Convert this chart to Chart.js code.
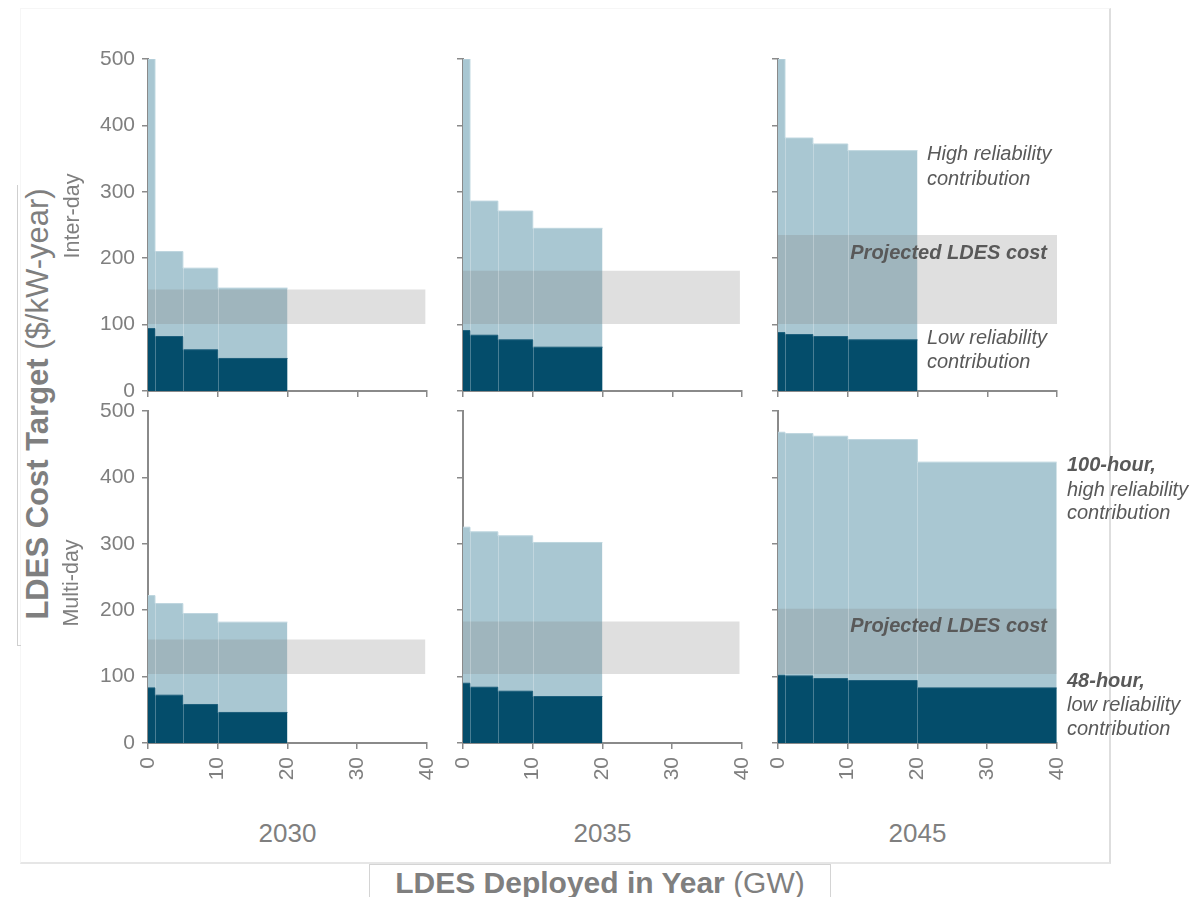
<!DOCTYPE html>
<html>
<head>
<meta charset="utf-8">
<title>LDES Cost Target</title>
<script src="https://cdn.jsdelivr.net/npm/chart.js@4.4.1/dist/chart.umd.min.js"></script>
<style>
  html, body { margin: 0; padding: 0; background: #ffffff; }
  #page {
    position: relative; width: 1203px; height: 897px; overflow: hidden;
    font-family: "Liberation Sans", Arial, sans-serif; color: #7f7f7f;
  }
  #plots { position: absolute; left: 0; top: 0; width: 1203px; height: 897px; }
  .panel { position: absolute; }
  .txt { position: absolute; white-space: nowrap; line-height: 24px; }
  .note { font-size: 20px; font-style: italic; color: #595959; }
  .note b { font-weight: bold; }
  .year { font-size: 26px; transform: translateX(-50%); }
  .rot { transform: translate(-50%, -50%) rotate(-90deg); }
  .line { position: absolute; }
</style>
</head>
<body>
<div id="page">
  <!-- frame lines -->
  <div class="line" style="left:20px;top:8px;width:1088px;height:853px;border-left:1px solid #f6f6f6;border-top:1px solid #f6f6f6;border-right:2px solid #dedede;border-bottom:2px solid #e6e6e6;"></div>
  <div class="line" style="left:17px;top:185px;width:3px;height:460px;border-left:1px solid #cfcfcf;border-bottom:1px solid #cfcfcf;"></div>
  <div class="line" style="left:369px;top:864px;width:460px;height:40px;border:1px solid #d4d4d4;border-bottom:none;background:#fff;"></div>

  <div id="plots"></div>

  <!-- axis and row titles -->
  <div class="txt rot" style="left:38px;top:404px;font-size:31px;line-height:34px;"><b>LDES Cost Target</b> ($/kW-year)</div>
  <div class="txt rot" style="left:72px;top:216px;font-size:21.5px;">Inter-day</div>
  <div class="txt rot" style="left:71px;top:583px;font-size:21.5px;">Multi-day</div>
  <div class="txt" style="left:600px;top:866px;transform:translateX(-50%);font-size:30px;line-height:34px;"><b>LDES Deployed in Year</b> (GW)</div>

  <div id="years"></div>

  <!-- annotations -->
  <div class="txt note" style="left:927px;top:141px;">High reliability</div>
  <div class="txt note" style="left:927px;top:166px;">contribution</div>
  <div class="txt note" style="left:845px;top:240px;width:202px;text-align:right;"><b>Projected LDES cost</b></div>
  <div class="txt note" style="left:927px;top:325px;">Low reliability</div>
  <div class="txt note" style="left:927px;top:349px;">contribution</div>

  <div class="txt note" style="left:1067px;top:452px;"><b>100-hour,</b></div>
  <div class="txt note" style="left:1067px;top:477px;">high reliability</div>
  <div class="txt note" style="left:1067px;top:500px;">contribution</div>
  <div class="txt note" style="left:845px;top:613px;width:202px;text-align:right;"><b>Projected LDES cost</b></div>
  <div class="txt note" style="left:1067px;top:668px;"><b>48-hour,</b></div>
  <div class="txt note" style="left:1067px;top:692px;">low reliability</div>
  <div class="txt note" style="left:1067px;top:716px;">contribution</div>
</div>

<script>
// Panel labels
const years = ['2030', '2035', '2045'];
const durations = ['Inter-day', 'Multi-day'];

// Axis ticks
const yTicks = [0, 100, 200, 300, 400, 500];
const xTicks = [0, 10, 20, 30, 40];

// Deployment step edges (GW)
const steps20 = [0, 1, 5, 10, 20];
const steps40 = [0, 1, 5, 10, 20, 40];

// Inter-day cost targets ($/kW-year) per deployment step
const interHigh2030 = [500, 210, 185, 155];
const interLow2030  = [94, 82, 62, 49];
const interHigh2035 = [500, 286, 271, 245];
const interLow2035  = [91, 84, 77, 66];
const interHigh2045 = [500, 381, 372, 362];
const interLow2045  = [88, 85, 82, 77];

// Multi-day cost targets ($/kW-year) per deployment step
const multiHigh2030 = [222, 210, 195, 182];
const multiLow2030  = [83, 72, 58, 46];
const multiHigh2035 = [325, 318, 312, 302];
const multiLow2035  = [90, 84, 78, 70];
const multiHigh2045 = [468, 466, 462, 457, 423];
const multiLow2045  = [102, 101, 97, 94, 83];

// Projected LDES cost range [low, high] and its extent in GW
const interBand2030 = [101, 153];
const interBand2035 = [101, 181];
const interBand2045 = [101, 235];
const multiBand2030 = [104, 156];
const multiBand2035 = [104, 183];
const multiBand2045 = [104, 202];
const bandSpan = [39.8, 39.7, 40];

const panels = [
  { row: 0, col: 0, steps: steps20, high: interHigh2030, low: interLow2030, band: interBand2030 },
  { row: 0, col: 1, steps: steps20, high: interHigh2035, low: interLow2035, band: interBand2035 },
  { row: 0, col: 2, steps: steps20, high: interHigh2045, low: interLow2045, band: interBand2045 },
  { row: 1, col: 0, steps: steps20, high: multiHigh2030, low: multiLow2030, band: multiBand2030 },
  { row: 1, col: 1, steps: steps20, high: multiHigh2035, low: multiLow2035, band: multiBand2035 },
  { row: 1, col: 2, steps: steps40, high: multiHigh2045, low: multiLow2045, band: multiBand2045 }
];

const LIGHT = '#a9c7d2';
const DARK = '#044d6b';
const BAND = 'rgba(130,130,130,0.26)';
const AXIS = '#8a8a8a';
const TICK_TEXT = '#7f7f7f';
const FONT = '"Liberation Sans", Arial, sans-serif';

// plot layout in page pixels
const colLeft = [148, 463, 778];
const rowTop = [59, 411];
const plotW = 279, plotH = 332;
const yAxisW = 70, xAxisH = 52, padTop = 22, padRight = 28;

function stepPoints(steps, values) {
  const pts = values.map((v, i) => ({ x: steps[i], y: v }));
  pts.push({ x: steps[values.length], y: values[values.length - 1] });
  return pts;
}

// thin light seams between deployment steps
const seams = {
  id: 'seams',
  afterDatasetsDraw(chart, args, opts) {
    const { ctx, scales: { x, y } } = chart;
    ctx.save();
    ctx.strokeStyle = 'rgba(255,255,255,0.28)';
    ctx.lineWidth = 1;
    const inner = opts.steps.slice(1, opts.high.length);
    inner.forEach((s, i) => {
      const top = Math.min(opts.high[i], opts.high[i + 1]);
      const px = Math.round(x.getPixelForValue(s)) + 0.5;
      ctx.beginPath();
      ctx.moveTo(px, y.getPixelForValue(0));
      ctx.lineTo(px, y.getPixelForValue(top));
      ctx.stroke();
    });
    ctx.restore();
  }
};

const plots = document.getElementById('plots');

panels.forEach(p => {
  const holder = document.createElement('div');
  holder.className = 'panel';
  const cv = document.createElement('canvas');
  let w = yAxisW + plotW + padRight;
  let h = padTop + plotH + xAxisH;
  cv.width = w; cv.height = h;
  cv.style.width = w + 'px';
  cv.style.height = h + 'px';
  holder.appendChild(cv);
  plots.appendChild(holder);

  const bandEnd = bandSpan[p.col];
  const chart = new Chart(cv, {
    type: 'line',
    data: {
      datasets: [
        {
          label: 'Low reliability contribution',
          data: stepPoints(p.steps, p.low),
          stepped: 'before', fill: 'origin',
          backgroundColor: DARK, borderColor: '#1d5f7c', borderWidth: 1,
          pointRadius: 0, order: 0
        },
        {
          label: 'Projected LDES cost',
          data: [{ x: 0, y: p.band[1] }, { x: bandEnd, y: p.band[1] }],
          fill: { value: p.band[0] },
          backgroundColor: BAND, borderWidth: 0, borderColor: 'rgba(0,0,0,0)',
          pointRadius: 0, order: 1
        },
        {
          label: 'High reliability contribution',
          data: stepPoints(p.steps, p.high),
          stepped: 'before', fill: 'origin',
          backgroundColor: LIGHT, borderColor: '#bed6df', borderWidth: 1,
          pointRadius: 0, order: 2
        }
      ]
    },
    options: {
      responsive: false, maintainAspectRatio: false, animation: false, events: [],
      layout: { padding: { top: padTop, right: padRight, left: 0, bottom: 0 }, autoPadding: false },
      plugins: {
        legend: { display: false }, tooltip: { enabled: false },
        seams: { steps: p.steps, high: p.high }
      },
      scales: {
        x: {
          type: 'linear', min: 0, max: 40,
          afterBuildTicks: s => { s.ticks = xTicks.map(v => ({ value: v })); },
          afterFit: s => { s.height = xAxisH; },
          border: { display: true, color: AXIS, width: 2 },
          grid: { display: true, drawOnChartArea: false, drawTicks: true, tickLength: 6, color: AXIS, lineWidth: 1.5 },
          ticks: {
            display: p.row === 1, minRotation: 90, maxRotation: 90, padding: 8,
            color: TICK_TEXT, font: { family: FONT, size: 21 }
          }
        },
        y: {
          type: 'linear', min: 0, max: 500,
          afterBuildTicks: s => { s.ticks = yTicks.map(v => ({ value: v })); },
          afterFit: s => { s.width = yAxisW; },
          border: { display: true, color: AXIS, width: 2 },
          grid: { display: true, drawOnChartArea: false, drawTicks: true, tickLength: 6, color: AXIS, lineWidth: 1.5 },
          ticks: {
            display: p.col === 0, padding: 7,
            color: TICK_TEXT, font: { family: FONT, size: 21 }
          }
        }
      }
    },
    plugins: [seams]
  });

  // keep every plot area at the same pixel size, then place it on the page
  let ca = chart.chartArea;
  const dw = plotW - Math.round(ca.right - ca.left);
  const dh = plotH - Math.round(ca.bottom - ca.top);
  if (dw !== 0 || dh !== 0) {
    w += dw; h += dh;
    chart.resize(w, h);
    ca = chart.chartArea;
  }
  holder.style.left = Math.round(colLeft[p.col] - ca.left) + 'px';
  holder.style.top = Math.round(rowTop[p.row] - ca.top) + 'px';
});

// year captions under each column
const yearBox = document.getElementById('years');
years.forEach((yr, i) => {
  const d = document.createElement('div');
  d.className = 'txt year';
  d.style.left = (colLeft[i] + plotW / 2) + 'px';
  d.style.top = '818px';
  d.style.lineHeight = '30px';
  d.textContent = yr;
  yearBox.appendChild(d);
});
</script>
</body>
</html>
